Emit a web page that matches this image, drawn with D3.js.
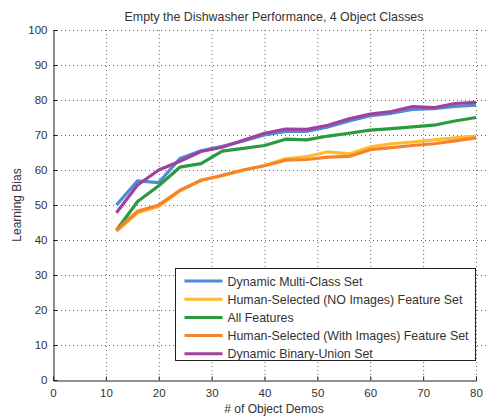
<!DOCTYPE html>
<html>
<head>
<meta charset="utf-8">
<script src="https://cdn.jsdelivr.net/npm/d3@7"></script>
<style>
  body { margin: 0; background: #fff; }
  svg { font-family: "Liberation Sans", Arial, sans-serif; }
</style>
</head>
<body>
<svg id="chart"></svg>
<script>
const demos = [12, 16, 20, 24, 28, 32, 36, 40, 44, 48, 52, 56, 60, 64, 68, 72, 76, 80];
const multiClass = [50, 56.9, 56.4, 63.3, 65.5, 66.8, 68.3, 70.0, 71.0, 71.0, 72.3, 74.0, 75.5, 76.2, 77.3, 77.5, 78.2, 78.5];
const humanNoImg = [42.5, 47.8, 49.6, 54.0, 57.2, 58.3, 60.0, 61.3, 63.2, 63.8, 65.2, 64.6, 66.6, 67.5, 68.0, 68.6, 69.2, 69.7];
const allFeatures = [42.8, 51.0, 55.5, 60.8, 61.8, 65.4, 66.2, 67.0, 68.8, 68.6, 69.7, 70.5, 71.4, 71.8, 72.3, 72.8, 74.0, 75.0];
const humanWithImg = [42.8, 48.2, 50.0, 54.2, 57.0, 58.5, 60.0, 61.2, 62.8, 63.0, 63.7, 63.9, 65.8, 66.4, 67.0, 67.5, 68.3, 69.2];
const binaryUnion = [47.8, 55.7, 60.0, 62.5, 65.3, 66.5, 68.5, 70.5, 71.7, 71.6, 72.8, 74.6, 76.0, 76.7, 78.1, 77.8, 79.0, 79.3];
const seriesNames = ["Dynamic Multi-Class Set", "Human-Selected (NO Images) Feature Set", "All Features",
  "Human-Selected (With Images) Feature Set", "Dynamic Binary-Union Set"];
const seriesColors = ["#4a8ed6", "#fbbd2e", "#2a9a3e", "#f7822c", "#a2409e"];
const xTicks = [0, 10, 20, 30, 40, 50, 60, 70, 80];
const yTicks = [0, 10, 20, 30, 40, 50, 60, 70, 80, 90, 100];

const series = [multiClass, humanNoImg, allFeatures, humanWithImg, binaryUnion];

const W = 487, H = 417;
const margin = {top: 30, right: 11, bottom: 37, left: 53};
const width = 476 - margin.left, height = 380 - margin.top;

const svg = d3.select("#chart").attr("width", W).attr("height", H);
const g = svg.append("g").attr("transform", `translate(${margin.left},${margin.top})`);

const x = d3.scaleLinear().domain([0, 80]).range([0, width]);
const y = d3.scaleLinear().domain([0, 100]).range([height, 0]);

// grid
g.append("g").selectAll("line").data(yTicks.filter(d => d > 0)).enter().append("line")
  .attr("x1", 0).attr("x2", width + 11)
  .attr("y1", d => y(d) + 0.5).attr("y2", d => y(d) + 0.5)
  .attr("stroke", "#666").attr("stroke-width", 1).attr("stroke-dasharray", "1,3");
g.append("g").selectAll("line").data(xTicks.filter(d => d > 0)).enter().append("line")
  .attr("x1", d => x(d) + 0.5).attr("x2", d => x(d) + 0.5)
  .attr("y1", 0).attr("y2", height)
  .attr("stroke", "#666").attr("stroke-width", 1).attr("stroke-dasharray", "1,3");

// axes
const yAxis = g.append("g").attr("transform", "translate(0.5,0)")
  .call(d3.axisLeft(y).tickValues(yTicks).tickSize(-4).tickPadding(6));
const xAxis = g.append("g").attr("transform", `translate(0,${height + 0.5})`)
  .call(d3.axisBottom(x).tickValues(xTicks).tickSize(-4).tickPadding(8));
[xAxis, yAxis].forEach(a => {
  a.select(".domain").attr("stroke", "#222");
  a.selectAll(".tick line").attr("stroke", "#222");
  a.selectAll("text").attr("font-size", 11.5).attr("fill", "#333")
    .attr("font-family", "Liberation Sans, Arial, sans-serif");
});

// lines
const line = d3.line().x((d, i) => x(demos[i])).y(d => y(d));
g.append("g").selectAll("path").data(series).enter().append("path")
  .attr("d", line)
  .attr("fill", "none")
  .attr("stroke", (d, i) => seriesColors[i])
  .attr("stroke-width", 3.2)
  .attr("stroke-linejoin", "round");

// titles
svg.append("text").attr("x", 274).attr("y", 21).attr("text-anchor", "middle")
  .attr("font-size", 12.4).attr("fill", "#333")
  .text("Empty the Dishwasher Performance, 4 Object Classes");
svg.append("text").attr("x", 274).attr("y", 413).attr("text-anchor", "middle")
  .attr("font-size", 12).attr("fill", "#333").text("# of Object Demos");
svg.append("text").attr("transform", "translate(21,205) rotate(-90)")
  .attr("text-anchor", "middle").attr("font-size", 12).attr("fill", "#333")
  .text("Learning Bias");

// legend
const legend = svg.append("g").attr("transform", "translate(175.5,268.5)");
legend.append("rect").attr("width", 300).attr("height", 92)
  .attr("fill", "#fff").attr("stroke", "#222").attr("stroke-width", 1);
const items = legend.selectAll("g.item").data(seriesNames).enter().append("g")
  .attr("transform", (d, i) => `translate(0,${12.5 + i * 18.2})`);
items.append("line").attr("x1", 9).attr("x2", 47)
  .attr("stroke", (d, i) => seriesColors[i]).attr("stroke-width", 3);
items.append("text").attr("x", 52).attr("y", 4.5).attr("font-size", 12.4).attr("fill", "#333")
  .text(d => d);
</script>
</body>
</html>
